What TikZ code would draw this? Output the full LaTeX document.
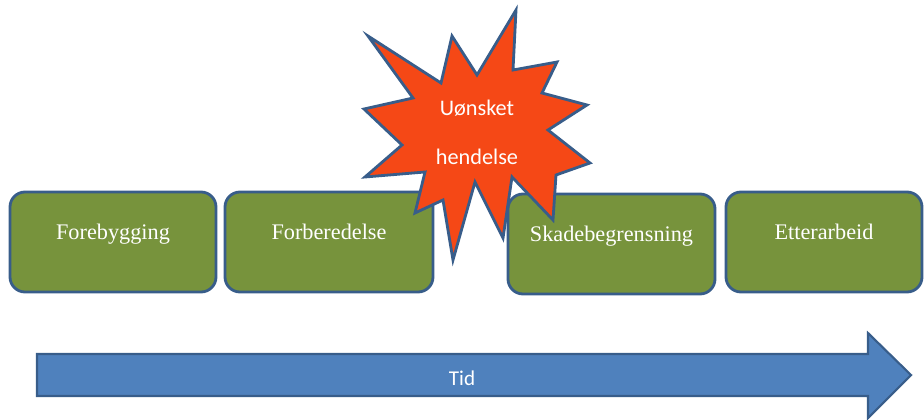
\documentclass[tikz,border=0pt]{standalone}
\usepackage{fontspec}
\setmainfont{Liberation Serif}
\newfontfamily\calibri{Carlito}
\definecolor{kant}{RGB}{56,93,138}
\definecolor{fasegronn}{RGB}{119,147,60}
\definecolor{stjerne}{RGB}{245,72,22}
\definecolor{tidbla}{RGB}{79,129,189}
\tikzset{
  fase/.style={draw=kant, line width=2.4pt, fill=fasegronn, rounded corners=0.45cm,
    minimum height=3cm, inner sep=0pt},
  fasetekst/.style={text=white, font=\fontsize{19}{22}\selectfont, yshift=0.17cm,
    text height=0.7em, text depth=0.22em},
  hvittekst/.style={text=white, font=\calibri\fontsize{#1}{42}\selectfont, align=center},
}
\begin{document}
\begin{tikzpicture}[x=0.03cm, y=-0.03cm]
    \useasboundingbox (0,0) rectangle (924,419);

    % faser
    \node[fase, minimum width=6.18cm, label={[fasetekst]center:Forebygging}] (fore) at (113,242) {};
    \node[fase, minimum width=6.24cm, label={[fasetekst]center:Forberedelse}] (forb) at (329,242) {};
    \node[fase, minimum width=6.21cm, label={[fasetekst]center:Skadebegrensning}] (skade) at (611.5,244) {};
    \node[fase, minimum width=5.88cm, label={[fasetekst]center:Etterarbeid}] (etter) at (824,242) {};

    % uønsket hendelse
    \draw[draw=kant, line width=2.4pt, fill=stjerne, line join=miter]
      (516,10) -- (513,70) -- (557,62) -- (542,93) -- (587,105) -- (548,130)
      -- (590,163) -- (556,175) -- (553,220) -- (512,177) -- (503,238) -- (475,182)
      -- (453,260) -- (443,200) -- (415,213) -- (425,172) -- (365,177) -- (402,145)
      -- (364,109) -- (413,98) -- (368,36) -- (441,83) -- (452,36) -- (477,75) -- cycle;
    \node[hvittekst=19] (hendelse) at (477,132) {Uønsket\\hendelse};

    % tidsakse
    \draw[draw=kant, line width=1.8pt, fill=tidbla, line join=miter]
      (37,354) -- (868,354) -- (868,333) -- (911,375) -- (868,418) -- (868,396)
      -- (37,396) -- cycle;
    \node[hvittekst=18] (tid) at (462,378) {Tid};

\end{tikzpicture}
\end{document}
